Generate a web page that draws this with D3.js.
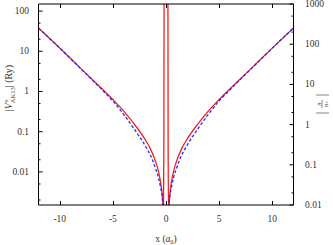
<!DOCTYPE html>
<html>
<head>
<meta charset="utf-8">
<script src="https://cdn.jsdelivr.net/npm/d3@7"></script>
<style>
body { margin: 0; background: #fff; }
text { font-family: "Liberation Serif", "DejaVu Serif", serif; fill: #333; }
</style>
</head>
<body>
<svg id="chart" width="333" height="245"></svg>
<script>
// red: |V+ AK13| (left axis, Ry)
var redX = [-12, -10, -8, -6, -5, -4, -3, -2, -1.5, -1.04, -0.7, -0.5, -0.35, -0.28, -0.24, -0.2, -0.18, 0,
            0.18, 0.2, 0.24, 0.28, 0.35, 0.5, 0.7, 1.04, 1.5, 2, 3, 4, 5, 6, 8, 10, 12];
var redV = [37.8, 12, 3.7, 1.15, 0.63, 0.33, 0.156, 0.066, 0.039, 0.02, 0.01, 0.0053, 0.0025, 0.0012, 0.0009, 0.05, 400, 5000,
            400, 0.05, 0.0009, 0.0012, 0.0025, 0.0053, 0.01, 0.02, 0.039, 0.066, 0.156, 0.33, 0.63, 1.15, 3.7, 12, 37.8];
// blue dashed: |n+/n| (right axis)
var blueX = [-12, -10, -8, -6, -5, -4, -3, -2, -1.27, -1, -0.7, -0.5, -0.35, -0.25, -0.15, 0,
             0.15, 0.25, 0.35, 0.5, 0.7, 1, 1.27, 2, 3, 4, 5, 6, 8, 10, 12];
var blueV = [253, 80, 24.2, 7.26, 3.86, 1.83, 0.78, 0.31, 0.131, 0.083, 0.047, 0.0265, 0.0158, 0.0095, 0.004, 0.001,
             0.004, 0.0095, 0.0158, 0.0265, 0.047, 0.083, 0.131, 0.31, 0.78, 1.83, 3.86, 7.26, 24.2, 80, 253];

var xTicks = [-10, -5, 0, 5, 10];
var leftTicks = [100, 10, 1, 0.1, 0.01];
var leftLabels = ["100", "10", "1", "0.1", "0.01"];
var rightTicks = [1000, 100, 10, 1, 0.1, 0.01];
var rightLabels = ["1000", "100", "10", "1", "0.1", "0.01"];

var svg = d3.select("#chart");
var L = 38.5, R = 293.5, T = 4, B = 205;

var x = d3.scaleLinear().domain([-12, 12]).range([L, R]);
var yL = d3.scaleLog().domain([0.0015, 150]).range([B, T]);
var yR = d3.scaleLog().domain([0.01, 1000]).range([B, T]);

svg.append("clipPath").attr("id", "clip")
  .append("rect").attr("x", L).attr("y", T).attr("width", R - L).attr("height", B - T);

var plot = svg.append("g").attr("clip-path", "url(#clip)");

var redLine = d3.line()
  .x(function(d, i) { return x(redX[i]); })
  .y(function(d) { return yL(d); })
  .curve(d3.curveMonotoneX);
var blueLine = d3.line()
  .x(function(d, i) { return x(blueX[i]); })
  .y(function(d) { return yR(d); })
  .curve(d3.curveMonotoneX);

plot.append("path").attr("d", redLine(redV))
  .attr("fill", "none").attr("stroke", "#f02020").attr("stroke-width", 1.3);
plot.append("path").attr("d", blueLine(blueV))
  .attr("fill", "none").attr("stroke", "#2a2af0").attr("stroke-width", 1.3)
  .attr("stroke-dasharray", "3,2");

// minor ticks
function minors(scale) {
  var out = [];
  var d = scale.domain();
  for (var e = -4; e <= 4; e++) {
    [2, 5].forEach(function(m) {
      var v = m * Math.pow(10, e);
      if (v > d[0] && v < d[1]) out.push(v);
    });
  }
  return out;
}

var ax = svg.append("g").attr("stroke", "#000").attr("stroke-width", 1);
xTicks.forEach(function(t) {
  ax.append("line").attr("x1", Math.round(x(t)) + 0.5).attr("x2", Math.round(x(t)) + 0.5).attr("y1", B).attr("y2", B - 4);
  ax.append("line").attr("x1", Math.round(x(t)) + 0.5).attr("x2", Math.round(x(t)) + 0.5).attr("y1", T).attr("y2", T + 4);
});
leftTicks.forEach(function(t) {
  ax.append("line").attr("x1", L).attr("x2", L + 4).attr("y1", yL(t)).attr("y2", yL(t));
});
minors(yL).forEach(function(t) {
  ax.append("line").attr("x1", L).attr("x2", L + 2).attr("y1", yL(t)).attr("y2", yL(t));
});
rightTicks.forEach(function(t) {
  ax.append("line").attr("x1", R).attr("x2", R - 4).attr("y1", yR(t)).attr("y2", yR(t));
});
minors(yR).forEach(function(t) {
  ax.append("line").attr("x1", R).attr("x2", R - 2).attr("y1", yR(t)).attr("y2", yR(t));
});

// border
ax.append("path").attr("fill", "none")
  .attr("d", "M" + L + "," + T + "V" + B + "H" + R + "V" + T);
ax.append("line").attr("x1", L).attr("x2", R).attr("y1", T).attr("y2", T);

// tick labels
svg.selectAll(".xl").data(xTicks).enter().append("text")
  .attr("x", function(d) { return x(d); }).attr("y", 222)
  .attr("text-anchor", "middle").attr("font-size", "9.5px")
  .text(function(d) { return d; });
svg.selectAll(".yl").data(leftTicks).enter().append("text")
  .attr("x", 29).attr("y", function(d) { return yL(d) + 3; })
  .attr("text-anchor", "end").attr("font-size", "9.5px")
  .text(function(d, i) { return leftLabels[i]; });
svg.selectAll(".yr").data(rightTicks).enter().append("text")
  .attr("x", 305).attr("y", function(d) { return yR(d) + 3; })
  .attr("text-anchor", "start").attr("font-size", "9.5px")
  .text(function(d, i) { return rightLabels[i]; });

// x label
var xl = svg.append("text").attr("x", 166).attr("y", 242).attr("text-anchor", "middle").attr("font-size", "9.5px");
xl.append("tspan").text("x (");
xl.append("tspan").attr("font-style", "italic").text("a");
xl.append("tspan").attr("font-size", "6.5px").attr("dy", 2).text("0");
xl.append("tspan").attr("dy", -2).text(")");

// left y label
var yl = svg.append("text").attr("transform", "translate(12,88) rotate(-90)")
  .attr("text-anchor", "middle").attr("font-size", "10px");
yl.append("tspan").text("|");
yl.append("tspan").attr("font-style", "italic").text("V");
yl.append("tspan").attr("font-size", "7px").attr("dy", -3.5).text("+");
yl.append("tspan").attr("font-size", "6.5px").attr("dx", -4).attr("dy", 6).text("AK13");
yl.append("tspan").attr("dy", -2.5).text("| (Ry)");

// right y label |n+/n|
var g = svg.append("g").attr("transform", "translate(322,104) rotate(-90)");
g.append("line").attr("x1", -4).attr("x2", 4).attr("y1", 0).attr("y2", 0).attr("stroke", "#333").attr("stroke-width", 0.6);
g.append("text").attr("x", 0).attr("y", -1.5).attr("text-anchor", "middle").attr("font-size", "6.5px").attr("font-style", "italic").text("n");
g.append("text").attr("x", 0).attr("y", 5.5).attr("text-anchor", "middle").attr("font-size", "6.5px").attr("font-style", "italic").text("n\u208A");
g.append("line").attr("x1", -9).attr("x2", -9).attr("y1", -6).attr("y2", 7).attr("stroke", "#333").attr("stroke-width", 0.6);
g.append("line").attr("x1", 9).attr("x2", 9).attr("y1", -6).attr("y2", 7).attr("stroke", "#333").attr("stroke-width", 0.6);
</script>
</body>
</html>
